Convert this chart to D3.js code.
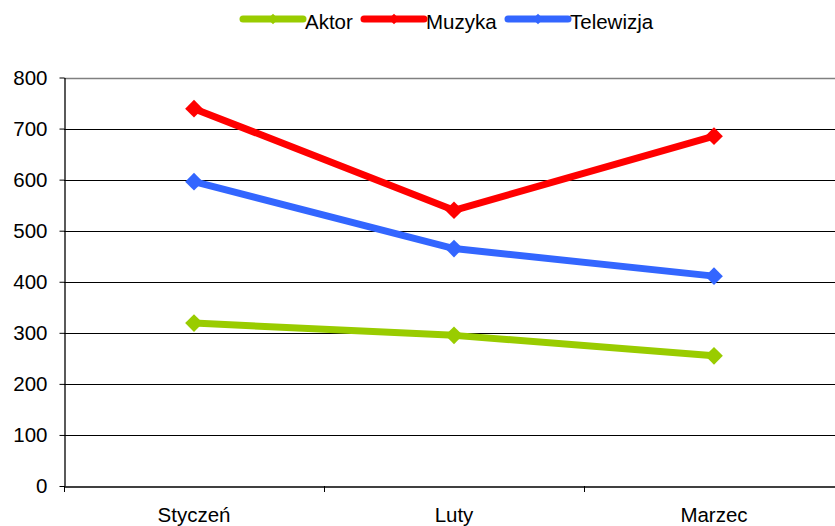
<!DOCTYPE html>
<html><head><meta charset="utf-8">
<script src="https://cdn.jsdelivr.net/npm/d3@7"></script>
<style>body{margin:0;background:#fff;}svg{display:block;font-family:"Liberation Sans",Arial,sans-serif;}</style>
</head><body>
<svg id="c" width="835" height="526"></svg>
<script>
const categories = ["Styczeń", "Luty", "Marzec"];
const seriesNames = ["Aktor", "Muzyka", "Telewizja"];
const aktor = [319, 295, 255];
const muzyka = [739, 540, 685];
const telewizja = [596, 465, 411];
const yTicks = [0, 100, 200, 300, 400, 500, 600, 700, 800];
const colors = ["#99CC00", "#FF0000", "#3366FF"];

(function () {
const series = [aktor, muzyka, telewizja];
const svg = d3.select("#c");
const pLeft = 64, pRight = 844, pTop = 77.5, pBottom = 486;
const FS = 20.5;
const x = d3.scaleBand().domain(categories).range([pLeft, pRight]);
const y = d3.scaleLinear().domain([0, 800]).range([pBottom, pTop]);

// gridlines
svg.append("g").selectAll("line").data(yTicks.filter(d => d > 0)).join("line")
  .attr("x1", pLeft).attr("x2", 835)
  .attr("y1", d => Math.round(y(d)) + 0.5).attr("y2", d => Math.round(y(d)) + 0.5)
  .attr("stroke", d => d === 800 ? "#808080" : "#000").attr("stroke-width", d => d === 800 ? 1.5 : 1);

// y axis
const ya = svg.append("g").attr("transform", `translate(${pLeft + 0.5},0)`)
  .call(d3.axisLeft(y).tickValues(yTicks).tickSize(5).tickPadding(12).tickSizeOuter(0));
ya.select(".domain").attr("stroke", "#000").attr("stroke-width", 1.3);
ya.selectAll(".tick line").attr("stroke", "#000");
ya.selectAll("text").attr("font-size", FS).attr("fill", "#000").attr("font-family", "Liberation Sans, Arial, sans-serif");

// x axis
const xa = svg.append("g").attr("transform", `translate(0,${pBottom + 0.5})`)
  .call(d3.axisBottom(x).tickSize(0).tickPadding(21).tickSizeOuter(0));
xa.select(".domain").attr("stroke", "#000").attr("stroke-width", 1.3);
xa.selectAll("text").attr("font-size", FS).attr("fill", "#000").attr("font-family", "Liberation Sans, Arial, sans-serif");
// category boundary ticks
svg.append("g").selectAll("line").data(categories).join("line")
  .attr("x1", d => x(d) + 0.5).attr("x2", d => x(d) + 0.5)
  .attr("y1", pBottom).attr("y2", pBottom + 6).attr("stroke", "#000");

const cx = d => x(d) + x.bandwidth() / 2;
const line = d3.line().x((d, i) => cx(categories[i])).y(d => y(d));
const diamond = d3.symbol().type(d3.symbolDiamond2).size(200);

series.forEach((s, k) => {
  svg.append("path").datum(s).attr("d", line).attr("fill", "none")
    .attr("stroke", colors[k]).attr("stroke-width", 7).attr("stroke-linejoin", "round");
  svg.append("g").selectAll("path").data(s).join("path")
    .attr("d", diamond)
    .attr("transform", (d, i) => `translate(${cx(categories[i])},${y(d)})`)
    .attr("fill", colors[k]);
});

// legend
const legX = [243, 364, 508];
const lg = svg.append("g");
seriesNames.forEach((n, k) => {
  const g = lg.append("g").attr("transform", `translate(${legX[k]},19)`);
  g.append("line").attr("x1", 0).attr("x2", 60).attr("y1", 0).attr("y2", 0)
    .attr("stroke", colors[k]).attr("stroke-width", 7).attr("stroke-linecap", "round");
  g.append("path").attr("d", d3.symbol().type(d3.symbolDiamond2).size(70)).attr("transform", "translate(30,0)").attr("fill", colors[k]);
  g.append("text").attr("x", 62).attr("y", 9.5).attr("font-size", FS).attr("fill", "#000").text(n);
});
})();
</script>
</body></html>
